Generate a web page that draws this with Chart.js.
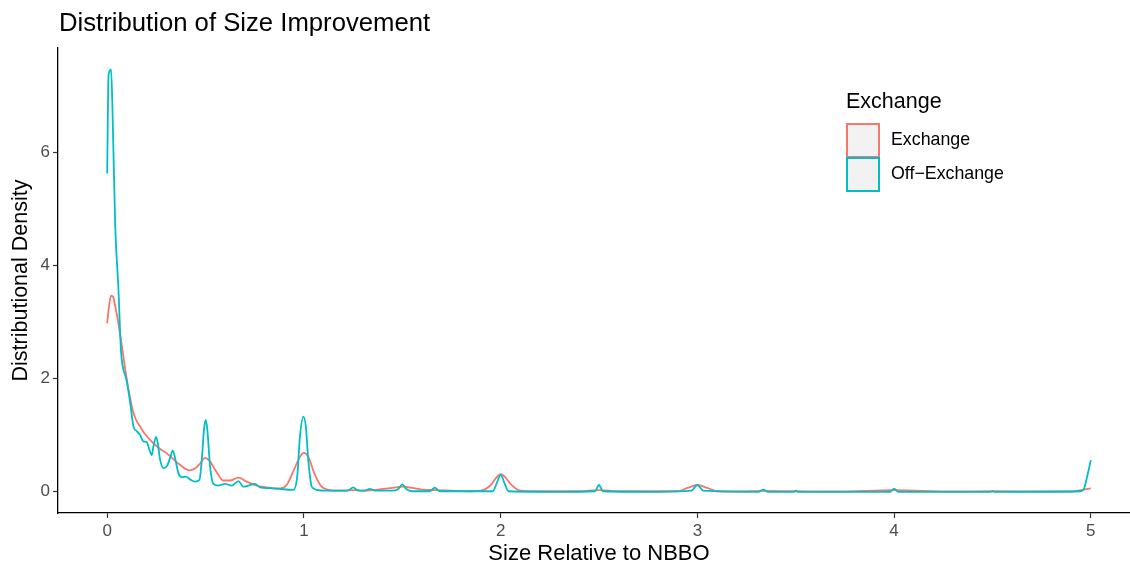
<!DOCTYPE html>
<html>
<head>
<meta charset="utf-8">
<script src="https://cdn.jsdelivr.net/npm/chart.js@4"></script>
<style>
  html, body { margin: 0; padding: 0; overflow: hidden; background: #fff; width: 1130px; height: 562px; }
  #wrap { position: relative; width: 1130px; height: 562px; overflow: hidden; }
  canvas { position: absolute; left: 0; top: 0; }
  .txt { position: absolute; font-family: "Liberation Sans", Arial, sans-serif; white-space: nowrap; color: #000; }
  #title { left: 59px; top: 10px; font-size: 25.7px; line-height: 25px; }
  #legTitle { left: 846px; top: 91px; font-size: 21.5px; line-height: 21px; }
  .key { position: absolute; left: 846px; width: 30px; height: 31px; background: #F2F2F2; border: 2px solid; box-sizing: content-box; }
  .lab { font-size: 17.8px; line-height: 17px; left: 891px; }
</style>
</head>
<body>
<div id="wrap">
  <canvas id="c" width="1140" height="562"></canvas>
  <div id="title" class="txt">Distribution of Size Improvement</div>
  <div id="legend"></div>
</div>
<script>
// ---- data ----
const seriesNames = ["Exchange", "Off\u2212Exchange"];
const seriesColors = ["#F8766D", "#00BFC4"];
const legendTitle = "Exchange";

const exchangeX = [0, 0.01, 0.02, 0.03, 0.04, 0.057, 0.075, 0.1, 0.12, 0.134, 0.15, 0.168, 0.19, 0.218, 0.25, 0.28, 0.303, 0.33, 0.35, 0.37, 0.395, 0.421, 0.445, 0.472, 0.497, 0.52, 0.54, 0.565, 0.59, 0.624, 0.667, 0.709, 0.76, 0.81, 0.85, 0.878, 0.912, 0.946, 0.98, 1.0, 1.022, 1.056, 1.09, 1.123, 1.16, 1.2, 1.25, 1.3, 1.35, 1.4, 1.45, 1.5, 1.55, 1.6, 1.67, 1.75, 1.85, 1.9, 1.95, 1.98, 2.0, 2.02, 2.05, 2.1, 2.2, 2.4, 2.5, 2.6, 2.8, 2.9, 2.95, 3.0, 3.05, 3.1, 3.2, 3.33, 3.5, 3.7, 4.0, 4.3, 4.5, 4.8, 4.9, 4.95, 5.0];
const exchangeY = [2.98, 3.3, 3.47, 3.45, 3.3, 2.98, 2.57, 1.98, 1.6, 1.39, 1.25, 1.15, 1.03, 0.92, 0.81, 0.73, 0.68, 0.6, 0.53, 0.48, 0.41, 0.38, 0.41, 0.5, 0.6, 0.55, 0.44, 0.3, 0.2, 0.2, 0.25, 0.18, 0.11, 0.08, 0.06, 0.06, 0.12, 0.36, 0.62, 0.69, 0.62, 0.3, 0.09, 0.035, 0.02, 0.02, 0.03, 0.02, 0.03, 0.05, 0.07, 0.09, 0.07, 0.04, 0.03, 0.02, 0.01, 0.02, 0.12, 0.26, 0.31, 0.27, 0.14, 0.02, 0.01, 0.01, 0.03, 0.01, 0.01, 0.01, 0.07, 0.12, 0.07, 0.01, 0.005, 0.015, 0.01, 0.005, 0.03, 0.005, 0.01, 0.005, 0.005, 0.03, 0.06];

const offExchangeX = [0, 0.007, 0.02, 0.029, 0.041, 0.057, 0.07, 0.08, 0.091, 0.1, 0.117, 0.134, 0.151, 0.168, 0.184, 0.201, 0.215, 0.227, 0.235, 0.249, 0.257, 0.269, 0.286, 0.303, 0.32, 0.333, 0.345, 0.362, 0.379, 0.401, 0.421, 0.447, 0.469, 0.481, 0.492, 0.501, 0.509, 0.523, 0.54, 0.565, 0.599, 0.633, 0.667, 0.692, 0.717, 0.751, 0.777, 0.827, 0.878, 0.946, 0.966, 0.98, 0.997, 1.01, 1.022, 1.04, 1.064, 1.1, 1.2, 1.23, 1.25, 1.27, 1.31, 1.335, 1.36, 1.45, 1.48, 1.5, 1.52, 1.55, 1.64, 1.665, 1.69, 1.8, 1.96, 1.98, 2.0, 2.02, 2.04, 2.3, 2.48, 2.5, 2.52, 2.8, 2.97, 3.0, 3.03, 3.31, 3.335, 3.36, 3.49, 3.5, 3.51, 3.98, 4.0, 4.02, 4.49, 4.5, 4.51, 4.95, 4.965, 4.98, 5.0];
const offExchangeY = [5.63, 7.37, 7.47, 6.45, 4.69, 3.6, 2.5, 2.2, 2.07, 1.95, 1.57, 1.15, 1.07, 1.0, 0.89, 0.88, 0.74, 0.65, 0.8, 0.97, 0.86, 0.57, 0.42, 0.45, 0.6, 0.73, 0.6, 0.33, 0.26, 0.27, 0.22, 0.18, 0.21, 0.57, 1.1, 1.27, 1.1, 0.45, 0.14, 0.11, 0.14, 0.11, 0.19, 0.09, 0.11, 0.14, 0.08, 0.065, 0.05, 0.035, 0.27, 0.98, 1.33, 1.15, 0.57, 0.09, 0.035, 0.02, 0.02, 0.03, 0.08, 0.03, 0.02, 0.05, 0.02, 0.02, 0.05, 0.13, 0.05, 0.01, 0.01, 0.075, 0.01, 0.01, 0.01, 0.15, 0.3, 0.15, 0.01, 0.0, 0.01, 0.12, 0.01, 0.0, 0.02, 0.12, 0.02, 0.0, 0.04, 0.0, 0.0, 0.02, 0.0, 0.0, 0.055, 0.0, 0.0, 0.01, 0.0, 0.01, 0.05, 0.25, 0.56];

const xTicks = [0, 1, 2, 3, 4, 5];
const yTicks = [0, 2, 4, 6];
const xTitle = "Size Relative to NBBO";
const yTitle = "Distributional Density";

// ---- build ----
const toPts = (xs, ys) => xs.map((x, i) => ({ x: x, y: ys[i] }));
const FONT = '"Liberation Sans", Arial, sans-serif';

new Chart(document.getElementById('c'), {
  type: 'line',
  data: {
    datasets: [
      { label: seriesNames[0], data: toPts(exchangeX, exchangeY), borderColor: seriesColors[0], order: 2 },
      { label: seriesNames[1], data: toPts(offExchangeX, offExchangeY), borderColor: seriesColors[1], order: 1 }
    ]
  },
  options: {
    responsive: false,
    devicePixelRatio: 1,
    animation: false,
    layout: { padding: { top: 48, left: 0, right: 0, bottom: 0 } },
    elements: {
      point: { radius: 0 },
      line: { borderWidth: 1.8, cubicInterpolationMode: 'monotone', fill: false }
    },
    plugins: { legend: { display: false }, tooltip: { enabled: false }, title: { display: false } },
    scales: {
      x: {
        type: 'linear', min: -0.25, max: 5.25,
        afterBuildTicks: (s) => { s.ticks = xTicks.map(v => ({ value: v })); },
        afterFit: (s) => { s.height = 49; },
        ticks: { color: '#4D4D4D', font: { family: FONT, size: 17 }, padding: 3, maxRotation: 0, autoSkip: false },
        grid: { drawOnChartArea: false, tickLength: 5, color: '#333333', tickWidth: 1.2 },
        border: { display: true, color: '#000000', width: 1.3 },
        title: { display: true, text: xTitle, color: '#000', font: { family: FONT, size: 22, lineHeight: 0.7 }, padding: { top: 0, bottom: 0 } }
      },
      y: {
        type: 'linear', min: -0.375, max: 7.85,
        afterBuildTicks: (s) => { s.ticks = yTicks.map(v => ({ value: v })); },
        afterFit: (s) => { s.width = 58; },
        ticks: { color: '#4D4D4D', font: { family: FONT, size: 17 }, padding: 3 },
        grid: { drawOnChartArea: false, tickLength: 5, color: '#333333', tickWidth: 1.2 },
        border: { display: true, color: '#000000', width: 1.3 },
        title: { display: true, text: yTitle, color: '#000', font: { family: FONT, size: 21.5, lineHeight: 1.2 }, padding: { top: 8, bottom: 0 } }
      }
    }
  }
});

// ---- legend (HTML text) ----
const leg = document.getElementById('legend');
const lt = document.createElement('div');
lt.id = 'legTitle'; lt.className = 'txt'; lt.textContent = legendTitle;
leg.appendChild(lt);
seriesNames.forEach((name, i) => {
  const k = document.createElement('div');
  k.className = 'key';
  k.style.top = (123 + i * 34) + 'px';
  k.style.borderColor = seriesColors[i];
  leg.appendChild(k);
  const l = document.createElement('div');
  l.className = 'txt lab';
  l.style.top = (131 + i * 34) + 'px';
  l.textContent = name;
  leg.appendChild(l);
});
</script>
</body>
</html>
